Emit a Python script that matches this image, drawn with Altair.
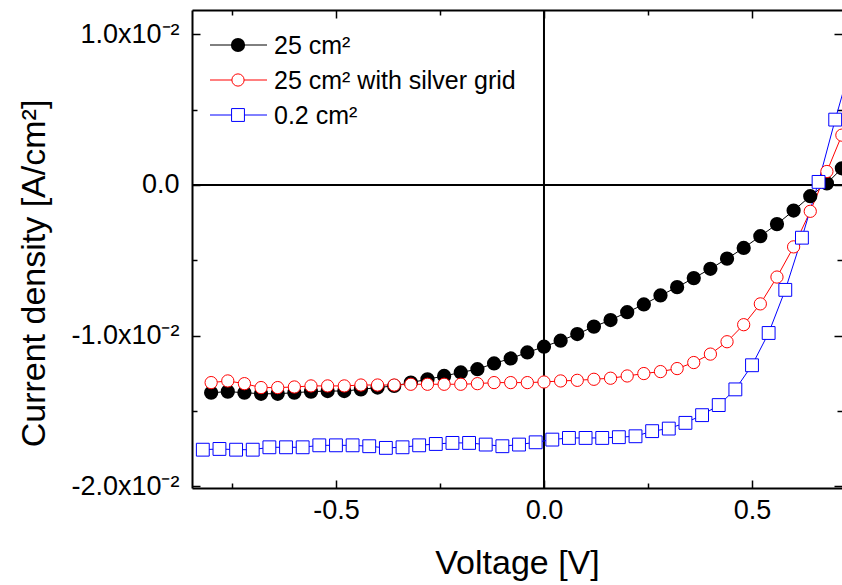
import altair as alt
import pandas as pd

# ---------------- data ----------------
V_main = [-0.80, -0.76, -0.72, -0.68, -0.64, -0.60, -0.56, -0.52, -0.48, -0.44,
          -0.40, -0.36, -0.32, -0.28, -0.24, -0.20, -0.16, -0.12, -0.08, -0.04,
          0.00, 0.04, 0.08, 0.12, 0.16, 0.20, 0.24, 0.28, 0.32, 0.36,
          0.40, 0.44, 0.48, 0.52, 0.56, 0.60, 0.64, 0.68, 0.716]

J_25 = [-13.78, -13.71, -13.78, -13.85, -13.85, -13.78, -13.71, -13.67, -13.67, -13.56,
        -13.44, -13.33, -13.11, -12.89, -12.67, -12.44, -12.22, -11.84, -11.51, -11.11,
        -10.73, -10.33, -9.89, -9.40, -8.96, -8.44, -7.93, -7.33, -6.78, -6.18,
        -5.56, -4.89, -4.18, -3.40, -2.60, -1.70, -0.75, 0.10, 1.10]

J_25_grid = [-13.11, -13.00, -13.18, -13.44, -13.44, -13.40, -13.33, -13.33, -13.33, -13.27,
             -13.27, -13.27, -13.22, -13.22, -13.22, -13.22, -13.18, -13.11, -13.11, -13.11,
             -13.07, -13.00, -12.96, -12.89, -12.82, -12.67, -12.51, -12.38, -12.18, -11.78,
             -11.22, -10.40, -9.27, -7.89, -6.11, -4.11, -1.75, 0.89, 3.30]

V_small = [-0.82, -0.78, -0.74, -0.70, -0.66, -0.62, -0.58, -0.54, -0.50, -0.46,
           -0.42, -0.38, -0.34, -0.30, -0.26, -0.22, -0.18, -0.14, -0.10, -0.06,
           -0.02, 0.02, 0.06, 0.10, 0.14, 0.18, 0.22, 0.26, 0.30, 0.34,
           0.38, 0.42, 0.46, 0.50, 0.54, 0.58, 0.62, 0.66, 0.70, 0.74]

J_small = [-17.56, -17.51, -17.56, -17.56, -17.40, -17.40, -17.40, -17.27, -17.27, -17.27,
           -17.33, -17.44, -17.40, -17.27, -17.18, -17.11, -17.11, -17.22, -17.33, -17.22,
           -17.07, -16.89, -16.78, -16.78, -16.78, -16.73, -16.67, -16.33, -16.16, -15.78,
           -15.27, -14.60, -13.56, -11.96, -9.82, -6.96, -3.50, 0.20, 4.33, 8.20]

series_names = ["25 cm²", "25 cm² with silver grid", "0.2 cm²"]
series_colors = ["#000000", "#ff0000", "#0000ff"]

x_major = [-0.5, 0.0, 0.5]
x_labels = ["-0.5", "0.0", "0.5"]
x_minor = [-0.75, -0.25, 0.25, 0.75]
y_major = [-0.02, -0.01, 0.0, 0.01]
y_minor = [-0.015, -0.005, 0.005]
y_labels = ["-2.0x10⁻²", "-1.0x10⁻²", "0.0", "1.0x10⁻²"]

x_title = "Voltage [V]"
y_title = "Current density [A/cm²]"

# ---------------- tables ----------------
def table(v, j, name):
    return pd.DataFrame({"V": v, "J": [x / 1000.0 for x in j], "series": name})

d_black = table(V_main, J_25, series_names[0])
d_red = table(V_main, J_25_grid, series_names[1])
d_blue = table(V_small, J_small, series_names[2])

FONT = "Liberation Sans"
W, H = 650, 478
xs = alt.Scale(domain=[-0.846, 0.7163], nice=False, zero=False)
ys = alt.Scale(domain=[-0.0201, 0.0116], nice=False, zero=False)

y_label_expr = ("datum.value > 0.005 ? '%s' : datum.value > -0.005 ? '%s' : "
                "datum.value > -0.015 ? '%s' : '%s'") % (y_labels[3], y_labels[2], y_labels[1], y_labels[0])
x_label_expr = ("datum.value < -0.25 ? '%s' : datum.value < 0.25 ? '%s' : '%s'"
                % (x_labels[0], x_labels[1], x_labels[2]))


def X(axis=None):
    return alt.X("V:Q", scale=xs, axis=axis)


def Y(axis=None):
    return alt.Y("J:Q", scale=ys, axis=axis)


def tick_axis(orient, values, size):
    return alt.Axis(orient=orient, values=values, offset=-size, tickSize=size, tickWidth=1.5,
                    tickColor="black", labels=False, domain=False, grid=False, title=None)


ax_bottom = alt.Axis(orient="bottom", values=x_major, labelExpr=x_label_expr, tickSize=0, labelPadding=9,
                     labelFont=FONT, labelFontSize=27, labelColor="black",
                     domain=True, domainColor="black", domainWidth=2, grid=False,
                     title=x_title, titleFont=FONT, titleFontSize=34, titleFontWeight="normal",
                     titleColor="black", titleY=85, titleBaseline="alphabetic")
ax_left = alt.Axis(orient="left", values=y_major, labelExpr=y_label_expr, tickSize=0, labelPadding=13,
                   labelFont=FONT, labelFontSize=27, labelColor="black",
                   domain=True, domainColor="black", domainWidth=2, grid=False,
                   title=y_title, titleFont=FONT, titleFontSize=34, titleFontWeight="normal",
                   titleColor="black", titleX=-148, titleY=263, titleBaseline="alphabetic",
                   titleAngle=-90)
ax_top = alt.Axis(orient="top", values=x_major, tickSize=0, labels=False, domain=True,
                  domainColor="black", domainWidth=2, grid=False, title=None)

anchor = pd.DataFrame({"V": [0.0], "J": [0.0]})

axis_layers = [
    alt.Chart(anchor).mark_point(opacity=0).encode(x=X(ax_bottom), y=Y(ax_left)),
    alt.Chart(anchor).mark_point(opacity=0).encode(x=X(ax_top), y=Y(tick_axis("left", y_major, 8))),
    alt.Chart(anchor).mark_point(opacity=0).encode(x=X(tick_axis("bottom", x_major, 8)),
                                                    y=Y(tick_axis("left", y_minor, 5))),
    alt.Chart(anchor).mark_point(opacity=0).encode(x=X(tick_axis("bottom", x_minor, 5)),
                                                    y=Y(tick_axis("right", y_major, 8))),
    alt.Chart(anchor).mark_point(opacity=0).encode(x=X(tick_axis("top", x_major, 8)),
                                                    y=Y(tick_axis("right", y_minor, 5))),
    alt.Chart(anchor).mark_point(opacity=0).encode(x=X(tick_axis("top", x_minor, 5)), y=Y()),
]

zero_v = alt.Chart(anchor).mark_rule(color="black", strokeWidth=2).encode(x=X())
zero_j = alt.Chart(anchor).mark_rule(color="black", strokeWidth=2).encode(y=Y())

lines = [
    alt.Chart(d).mark_line(color=c, strokeWidth=1).encode(x=X(), y=Y(), order="V:Q")
    for d, c in zip([d_black, d_red, d_blue], series_colors)
]

pt_black = alt.Chart(d_black).mark_point(shape="circle", filled=True, fill="black", stroke="black",
                                         size=150, opacity=1).encode(x=X(), y=Y())
pt_red = alt.Chart(d_red).mark_point(shape="circle", fill="white", stroke="#ff0000", strokeWidth=1,
                                     fillOpacity=1, size=150, opacity=1).encode(x=X(), y=Y())
pt_blue = alt.Chart(d_blue).mark_point(shape="square", fill="white", stroke="#0000ff", strokeWidth=1,
                                       fillOpacity=1, size=165, opacity=1).encode(x=X(), y=Y())

# ---------------- legend (inside plot, top-left) ----------------
one = pd.DataFrame({"a": [0]})
legend_layers = []
row_y = [35, 70, 105]
for i, (name, col) in enumerate(zip(series_names, series_colors)):
    yy = row_y[i]
    legend_layers.append(
        alt.Chart(one).mark_rule(color=col, strokeWidth=1).encode(
            x=alt.value(18), x2=alt.value(75), y=alt.value(yy)))
    if i == 0:
        mk = alt.Chart(one).mark_point(shape="circle", filled=True, fill="black", stroke="black",
                                       size=150, opacity=1)
    elif i == 1:
        mk = alt.Chart(one).mark_point(shape="circle", fill="white", stroke=col, strokeWidth=1,
                                       fillOpacity=1, size=150, opacity=1)
    else:
        mk = alt.Chart(one).mark_point(shape="square", fill="white", stroke=col, strokeWidth=1,
                                       fillOpacity=1, size=165, opacity=1)
    legend_layers.append(mk.encode(x=alt.value(46), y=alt.value(yy)))
    legend_layers.append(
        alt.Chart(one).mark_text(text=name, font=FONT, fontSize=25, color="black",
                                 align="left", baseline="middle").encode(
            x=alt.value(82), y=alt.value(yy + 1)))

chart = alt.layer(
    *axis_layers, zero_v, zero_j, *lines, pt_black, pt_red, pt_blue, *legend_layers
).resolve_axis(x="independent", y="independent").properties(
    width=W, height=H,
    padding={"left": 192, "top": 10, "right": 0, "bottom": 97},
    autosize=alt.AutoSizeParams(type="none"),
).configure_view(stroke=None).configure(background="white")

chart.save("out.html", embed_options={"renderer": "svg", "actions": False})
